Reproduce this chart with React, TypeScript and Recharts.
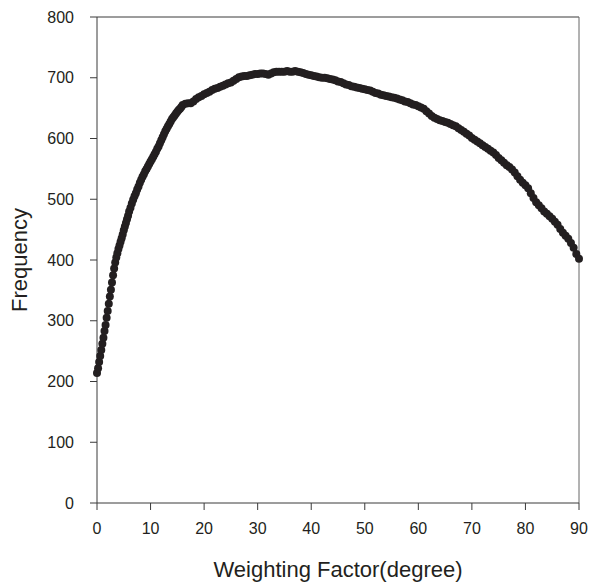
import React from 'react';
import { ScatterChart, Scatter, XAxis, YAxis, ReferenceLine } from 'recharts';

// [degree, frequency] pairs
const risePoints: [number, number][] = [
  [0, 214], [0.2, 222], [0.4, 232], [0.6, 242], [0.8, 252], [1.0, 262], [1.2, 272], [1.4, 283],
  [1.6, 293], [1.8, 305], [2.0, 316], [2.2, 328], [2.4, 340], [2.6, 351], [2.8, 363], [3.0, 375],
  [3.2, 386], [3.4, 396], [3.6, 404], [3.8, 411], [4.0, 418], [4.2, 424], [4.4, 430], [4.6, 436],
  [4.8, 442], [5.0, 449], [5.2, 455], [5.4, 461], [5.6, 467], [5.8, 473], [6.0, 480],
];

const kneePoints: [number, number][] = [
  [6.25, 486], [6.5, 493], [6.75, 499], [7.0, 505], [7.25, 510], [7.5, 516], [7.75, 521], [8.0, 527],
  [8.25, 532], [8.5, 537], [8.75, 541], [9.0, 546], [9.25, 550], [9.5, 554], [9.75, 558], [10.0, 562],
  [10.25, 566], [10.5, 570], [10.75, 574], [11.0, 578], [11.25, 583], [11.5, 587], [11.75, 592], [12.0, 597],
  [12.25, 602], [12.5, 607], [12.75, 612], [13.0, 616], [13.25, 620], [13.5, 624], [13.75, 628], [14.0, 632],
  [14.25, 635], [14.5, 638], [14.75, 641], [15.0, 644], [15.25, 647], [15.5, 649], [15.75, 652], [16.0, 655],
];

const peakPoints: [number, number][] = [
  [16.5, 657], [17.0, 658], [17.5, 658], [18.0, 661], [18.5, 665], [19.0, 668], [19.5, 670], [20.0, 673],
  [20.5, 675], [21.0, 677], [21.5, 680], [22.0, 682], [22.5, 683], [23.0, 685], [23.5, 687], [24.0, 689],
  [24.5, 691], [25.0, 692], [25.5, 695], [26.0, 698], [26.5, 701], [27.0, 702], [27.5, 703], [28.0, 703],
  [28.5, 704], [29.0, 705], [29.5, 706], [30.0, 706], [30.5, 707], [31.0, 707], [31.5, 706], [32.0, 705],
  [32.5, 707], [33.0, 709], [33.5, 710], [34.0, 710], [34.5, 710], [35.0, 710], [35.5, 711], [36.0, 710],
  [36.5, 710], [37.0, 711], [37.5, 710], [38.0, 709], [38.5, 708], [39.0, 706], [39.5, 705], [40.0, 704],
  [40.5, 703], [41.0, 702], [41.5, 701], [42.0, 700], [42.5, 700], [43.0, 699], [43.5, 698], [44.0, 697],
  [44.5, 696], [45.0, 694], [45.5, 693], [46.0, 691], [46.5, 689], [47.0, 688], [47.5, 686], [48.0, 685],
  [48.5, 684], [49.0, 683], [49.5, 682], [50.0, 681], [50.5, 680], [51.0, 679], [51.5, 677], [52.0, 675],
  [52.5, 674], [53.0, 672], [53.5, 671], [54.0, 670], [54.5, 669], [55.0, 668], [55.5, 667], [56.0, 666],
];

const fallPoints: [number, number][] = [
  [56.5, 664], [57.0, 663], [57.5, 661], [58.0, 660], [58.5, 658], [59.0, 656], [59.5, 655], [60.0, 653],
  [60.5, 651], [61.0, 649], [61.5, 645], [62.0, 641], [62.5, 637], [63.0, 634], [63.5, 632], [64.0, 630],
  [64.5, 629], [65.0, 627], [65.5, 626], [66.0, 624], [66.5, 622], [67.0, 620], [67.5, 617], [68.0, 614],
  [68.5, 611], [69.0, 608], [69.5, 605], [70.0, 601], [70.5, 598], [71.0, 595], [71.5, 592], [72.0, 589],
  [72.5, 586], [73.0, 583], [73.5, 580], [74.0, 577], [74.5, 573], [75.0, 568], [75.5, 564], [76.0, 560],
  [76.5, 556], [77.0, 553], [77.5, 549], [78.0, 544], [78.5, 538], [79.0, 532], [79.5, 527], [80.0, 523],
  [80.5, 518], [81.0, 510], [81.5, 502], [82.0, 495], [82.5, 490], [83.0, 485], [83.5, 480], [84.0, 476],
  [84.5, 472], [85.0, 468], [85.5, 463], [86.0, 458], [86.5, 451], [87.0, 445], [87.5, 440], [88.0, 435],
  [88.5, 428], [89.0, 420], [89.5, 410], [90.0, 402],
];

const xTicks = [0, 10, 20, 30, 40, 50, 60, 70, 80, 90];
const yTicks = [0, 100, 200, 300, 400, 500, 600, 700, 800];

const data = [...risePoints, ...kneePoints, ...peakPoints, ...fallPoints].map(([degree, frequency]) => ({
  degree,
  frequency,
}));

const INK = '#231f20';
const AXIS = '#3a3a3a';

const Dot = (props: any) => <circle cx={props.cx} cy={props.cy} r={4} fill={INK} />;

const YTitle = (props: any) => {
  const vb = props.viewBox || { y: 17, height: 486 };
  const cy = vb.y + vb.height / 2;
  const cx = 27;
  return (
    <text x={cx} y={cy} transform={`rotate(-90 ${cx} ${cy})`} textAnchor="middle" fontSize={22} fill={INK}>
      Frequency
    </text>
  );
};

export default function App() {
  return (
    <div style={{ position: 'absolute', left: 0, top: 0, fontFamily: '"Liberation Sans", Arial, sans-serif' }}>
      <ScatterChart width={592} height={582} margin={{ top: 17, right: 13, bottom: 0, left: 0 }}>
        <XAxis
          type="number"
          dataKey="degree"
          domain={[0, 90]}
          ticks={xTicks}
          interval={0}
          height={79}
          tickSize={7}
          tickMargin={13}
          axisLine={{ stroke: AXIS }}
          tickLine={{ stroke: AXIS }}
          tick={{ fill: INK, fontSize: 16 }}
          label={{ value: 'Weighting Factor(degree)', position: 'insideBottom', offset: 5, fontSize: 22, fill: INK }}
        />
        <YAxis
          type="number"
          dataKey="frequency"
          domain={[0, 800]}
          ticks={yTicks}
          interval={0}
          width={97}
          tickSize={7}
          tickMargin={16}
          axisLine={{ stroke: AXIS }}
          tickLine={{ stroke: AXIS }}
          tick={{ fill: INK, fontSize: 16 }}
          label={{ content: YTitle }}
        />
        <ReferenceLine y={800} stroke={AXIS} />
        <ReferenceLine x={90} stroke="#666" />
        <Scatter data={data} isAnimationActive={false} shape={Dot} />
      </ScatterChart>
    </div>
  );
}
